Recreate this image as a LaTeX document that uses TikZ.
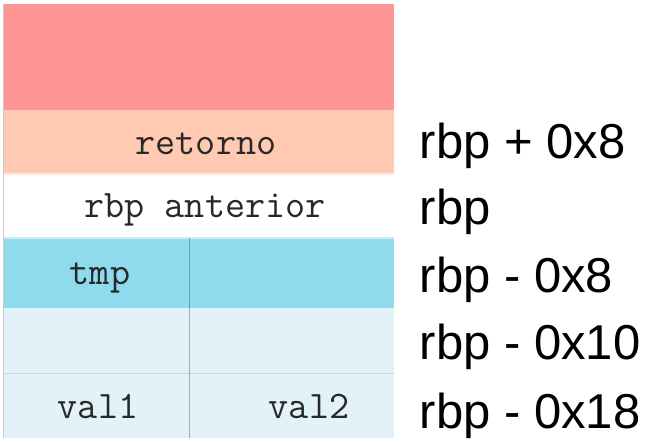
\documentclass[tikz,border=0pt]{standalone}
\usepackage{fontspec}
\setmainfont{Liberation Sans}
\usepackage{tikz}
\usetikzlibrary{positioning,calc}

\definecolor{rojo}{RGB}{255,150,150}
\definecolor{salmon}{RGB}{255,202,177}
\definecolor{celeste}{RGB}{143,218,237}
\definecolor{palido}{RGB}{227,241,249}
\definecolor{tinta}{RGB}{40,40,40}

\begin{document}
\begin{tikzpicture}[x=1pt,y=-1pt,
		cell/.style={rectangle,inner sep=0pt,outer sep=0pt,anchor=north west},
		mono/.style={inner sep=0pt,anchor=base,text=tinta,font=\ttfamily\fontsize{39}{44}\selectfont},
		offset/.style={inner sep=0pt,anchor=base west,font=\fontsize{49}{56}\selectfont}]
					\useasboundingbox (0,0) rectangle (650,443);
					
					% pila
					\node (pila) at (3,4) [cell,fill=rojo,minimum width=391pt,minimum height=106pt] {};
					\node (ret) at (3,110) [cell,fill=salmon,minimum width=391pt,minimum height=64pt] {};
					\node (ant) at (3,174) [cell,fill=white,minimum width=391pt,minimum height=64pt] {};
					\node (tmp) at (3,238) [cell,fill=celeste,minimum width=186.5pt,minimum height=70pt] {};
					\node (tmpb) at (189.5,238) [cell,fill=celeste,minimum width=204.5pt,minimum height=70pt] {};
					\node (hueco) at (3,308) [cell,fill=palido,minimum width=186.5pt,minimum height=65pt] {};
					\node (huecob) at (189.5,308) [cell,fill=palido,minimum width=204.5pt,minimum height=65pt] {};
					\node (val) at (3,373) [cell,fill=palido,minimum width=186.5pt,minimum height=65pt] {};
					\node (valb) at (189.5,373) [cell,fill=palido,minimum width=204.5pt,minimum height=65pt] {};
					
					\draw [salmon!40,line width=1.5pt] (ret.south west) -- (ret.south east);
					\draw [celeste!50,line width=1.5pt] (tmp.north west) -- (tmpb.north east);
					\draw [palido!85!celeste!80!gray,line width=1pt] (hueco.south west) -- (huecob.south east);
					\draw [black!20,line width=1pt] (pila.north west) -- (val.south west);
					\draw [draw={rgb,255:red,40;green,70;blue,90},draw opacity=0.4,line width=1.2pt] (tmp.north east) -- (val.south east);
					
					% contenido
					\node (tRet) at (206,155) [mono] {retorno};
					\node (tAnt) at (205,218) [mono] {rbp anterior};
					\node (tTmp) at (100,285) [mono] {tmp};
					\node (tVal1) at (98,418) [mono] {val1};
					\node (tVal2) at (309,418) [mono] {val2};
					
					% desplazamientos
					\node (o8) at (419.5,159) [offset] {rbp + 0x8};
					\node (o0) at (419.5,225) [offset] {rbp};
					\node (m8) at (419.5,293) [offset] {rbp - 0x8};
					\node (m10) at (419.5,359) [offset] {rbp - 0x10};
					\node (m18) at (419.5,428) [offset] {rbp - 0x18};
				\end{tikzpicture}
\end{document}
